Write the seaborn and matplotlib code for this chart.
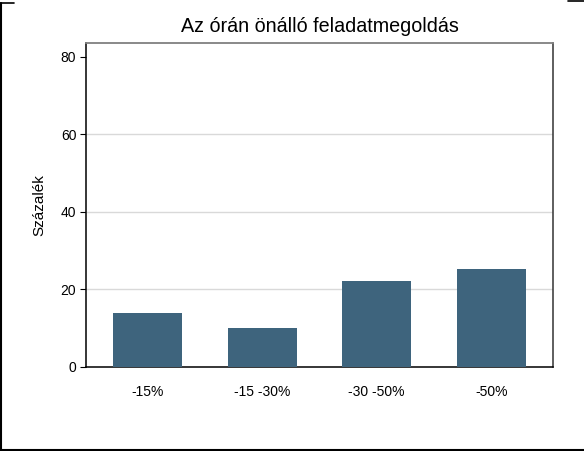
import pandas as pd
import matplotlib.pyplot as plt
import seaborn as sns
from matplotlib.lines import Line2D

# data
categories = ['-15%', '-15 -30%', '-30 -50%', '-50%']
values = [13.9, 10.1, 22.2, 25.3]
y_ticks = [0, 20, 40, 60, 80]

df = pd.DataFrame({'cat': categories, 'pct': values})

sns.set_theme(style='white')
plt.rcParams['font.family'] = ['Liberation Sans', 'DejaVu Sans']
plt.rcParams['text.color'] = 'black'
plt.rcParams['axes.labelcolor'] = 'black'
plt.rcParams['xtick.color'] = 'black'
plt.rcParams['ytick.color'] = 'black'

fig = plt.figure(figsize=(5.84, 4.51), dpi=100)
ax = fig.add_axes([86/584, 1 - 367/451, (553-86)/584, (367-43)/451])

sns.barplot(x='cat', y='pct', data=df, ax=ax, color='#3e647d',
            saturation=1, width=0.6, linewidth=0, zorder=3)

ax.set_ylim(0, 83.6)
ax.set_xlim(-0.54, 3.54)
ax.set_yticks(y_ticks)
for g in y_ticks[1:-1]:
    ax.axhline(g, color='#d9d9d9', lw=1, zorder=1)

ax.set_title('Az órán önálló feladatmegoldás', fontsize=14.2, pad=8, color='black')
ax.set_xlabel('')
ax.set_ylabel('Százalék', fontsize=11, labelpad=10)
ax.tick_params(axis='y', left=True, length=4, width=0.8, color='black',
               labelsize=10, pad=3)
ax.tick_params(axis='x', bottom=False, labelsize=10, pad=7)

for side in ['left', 'bottom']:
    ax.spines[side].set_color('black')
    ax.spines[side].set_linewidth(1.1)
ax.spines['right'].set_color('#333333')
ax.spines['right'].set_linewidth(1.1)
ax.spines['top'].set_color('#808080')
ax.spines['top'].set_linewidth(1.3)

# partial outer frame of the original image
fig.add_artist(Line2D([0.5/584, 0.5/584], [0, 1 - 3/451], color='black', lw=1.5))
fig.add_artist(Line2D([0, 1], [1.5/451, 1.5/451], color='black', lw=1.5))
fig.add_artist(Line2D([0, 14/584], [1 - 3/451, 1 - 3/451], color='black', lw=1.2))
fig.add_artist(Line2D([568/584, 1], [1 - 1/451, 1 - 1/451], color='black', lw=1.2))

fig.savefig('out.png', dpi=100)
